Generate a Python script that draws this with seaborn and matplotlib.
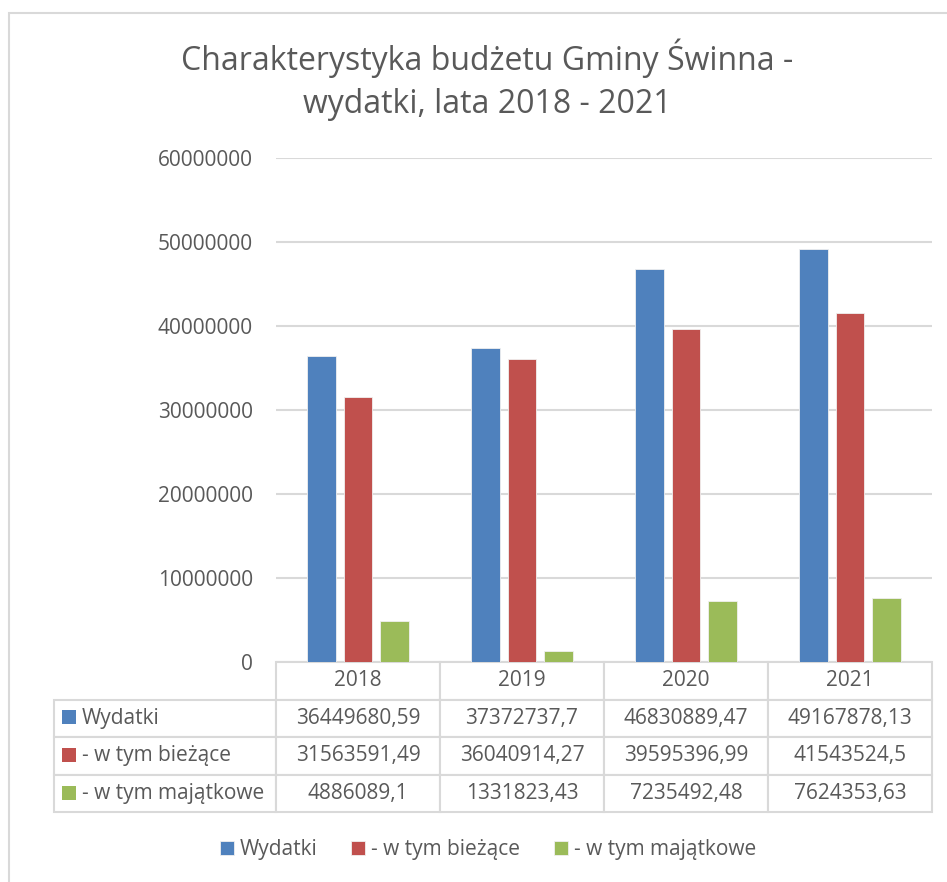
import matplotlib
matplotlib.use("Agg")
import matplotlib.pyplot as plt
import seaborn as sns
import pandas as pd
from matplotlib.patches import Rectangle

years = ["2018", "2019", "2020", "2021"]
series = ["Wydatki", "- w tym bieżące", "- w tym majątkowe"]
wydatki = [36449680.59, 37372737.7, 46830889.47, 49167878.13]
biezace = [31563591.49, 36040914.27, 39595396.99, 41543524.5]
majatkowe = [4886089.1, 1331823.43, 7235492.48, 7624353.63]
table_text = [
    ["36449680,59", "37372737,7", "46830889,47", "49167878,13"],
    ["31563591,49", "36040914,27", "39595396,99", "41543524,5"],
    ["4886089,1", "1331823,43", "7235492,48", "7624353,63"],
]
colors = ["#4F81BD", "#C0504D", "#9BBB59"]
title_lines = ["Charakterystyka budżetu Gminy Świnna -", "wydatki, lata 2018 - 2021"]

rows = []
for s, vals in zip(series, [wydatki, biezace, majatkowe]):
    for y, v in zip(years, vals):
        rows.append({"Rok": y, "Seria": s, "Wartość": v})
df = pd.DataFrame(rows)

sns.set_theme(style="white")
plt.rcParams["font.family"] = ["Open Sans", "DejaVu Sans"]
txt = "#595959"
grid = "#D9D9D9"

W, H = 947, 882
fig = plt.figure(figsize=(W / 100, H / 100), dpi=100)
ax_l, ax_r, ax_t, ax_b = 276, 932, 158, 662
ax = fig.add_axes([ax_l / W, 1 - ax_b / H, (ax_r - ax_l) / W, (ax_b - ax_t) / H])

sns.barplot(data=df, x="Rok", y="Wartość", hue="Seria", palette=colors,
            width=0.66, gap=0.2, ax=ax, legend=True, edgecolor="#f0f0f0",
            linewidth=0.6, saturation=1)

ax.set_ylim(0, 60000000)
ax.set_yticks(range(0, 60000001, 10000000))
ax.set_yticklabels([str(v) for v in range(0, 60000001, 10000000)])
ax.set_xlim(-0.5, 3.5)
ax.set_xlabel("")
ax.set_ylabel("")
ax.set_xticks([])
ax.grid(axis="y", color=grid, linewidth=1.5)
ax.set_axisbelow(True)
for sp in ax.spines.values():
    sp.set_visible(False)
ax.tick_params(axis="y", length=0, pad=16.5, labelsize=15, labelcolor=txt)

# legend
handles, labels = ax.get_legend_handles_labels()
ax.get_legend().remove()
fig.legend(handles, labels, loc="center", bbox_to_anchor=(488 / W, 1 - 850 / H),
           ncol=3, frameon=False, fontsize=15, handlelength=0.67, handleheight=0.67,
           handletextpad=0.3, columnspacing=1.6, labelcolor=txt)

# data table
aw = ax_r - ax_l
ah = ax_b - ax_t
t_l, t_r, t_t, t_b = 54, 932, 662, 812
cell_text = [[s] + r for s, r in zip(series, table_text)]
col_labels = [""] + years
cw = [222, 164, 164, 164, 164]
tot = sum(cw)
tbl = ax.table(cellText=cell_text, colLabels=col_labels,
               colWidths=[c / tot for c in cw], cellLoc="center",
               bbox=[(t_l - ax_l) / aw, -(t_b - ax_b) / ah,
                     (t_r - t_l) / aw, (t_b - t_t) / ah])
tbl.auto_set_font_size(False)
tbl.set_fontsize(15)
for (r, c), cell in tbl.get_celld().items():
    cell.set_edgecolor(grid)
    cell.set_linewidth(1.5)
    cell.get_text().set_color(txt)
    if r == 0 and c == 0:
        cell.visible_edges = "open"
    if c == 0 and r > 0:
        cell.get_text().set_ha("left")
        cell._loc = "left"
        cell.PAD = 28 / 222

row_centers = [717, 755, 793]
for yc, col in zip(row_centers, colors):
    ax.add_patch(Rectangle(((62 - ax_l) / aw, (ax_b - (yc + 7)) / ah), 14 / aw, 14 / ah,
                           transform=ax.transAxes, clip_on=False, facecolor=col,
                           edgecolor="none"))

# title (two lines)
for line, base in zip(title_lines, [70, 113]):
    fig.text(487 / W, 1 - base / H, line, ha="center", va="baseline", fontsize=23,
             color=txt)

# outer chart border
fig.add_artist(Rectangle((9 / W, -0.1), 1.2, 1 - 13 / H + 0.1, transform=fig.transFigure,
                         fill=False, edgecolor=grid, linewidth=1.5))

fig.savefig("out.png", dpi=100)
